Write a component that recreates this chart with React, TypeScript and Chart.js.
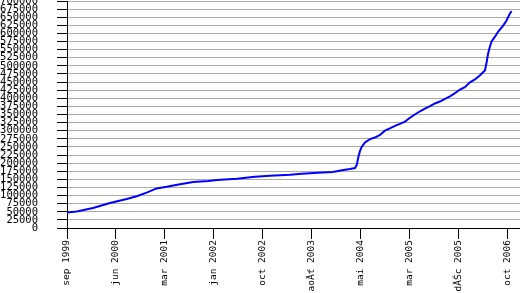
import React, { useEffect, useRef } from "react";
import { Chart, registerables } from "chart.js";

Chart.register(...registerables);

// days since 1 Sep 1999
const days = [
  0, 57, 153, 253, 351, 410, 468, 527, 586, 664, 742, 831, 882, 999, 1105, 1193,
  1311, 1381, 1475, 1563, 1616, 1663, 1693, 1703, 1712, 1722, 1732, 1752, 1781,
  1810, 1840, 1869, 1898, 1928, 1957, 1987, 2016, 2045, 2075, 2104, 2134, 2163,
  2192, 2222, 2251, 2281, 2310, 2339, 2369, 2398, 2428, 2457, 2467, 2476, 2486,
  2496, 2516, 2535, 2564, 2584, 2600, 2613,
];
const values = [
  48000, 51000, 61500, 77000, 89600, 98000, 109000, 122000, 127000, 135000,
  142000, 145000, 148000, 152000, 158000, 161000, 164000, 167000, 170000, 172500,
  178000, 182000, 185000, 194000, 217000, 237000, 250000, 264000, 274000, 279000,
  287000, 300000, 307000, 315000, 321000, 328000, 340000, 350000, 360000, 368000,
  376000, 384000, 390000, 398000, 406000, 416000, 427000, 434000, 449000, 458000,
  471000, 486000, 512000, 539000, 559000, 575000, 590000, 606000, 624000, 640000,
  658000, 669000,
];
const tickDays = [0, 288, 576, 864, 1152, 1440, 1728, 2016, 2304, 2592];
const tickLabels = [
  "sep 1999",
  "jun 2000",
  "mar 2001",
  "jan 2002",
  "oct 2002",
  "aoĂť 2003",
  "mai 2004",
  "mar 2005",
  "dĂŠc 2005",
  "oct 2006",
];

export default function App() {
  const ref = useRef<HTMLCanvasElement>(null);
  useEffect(() => {
    if (!ref.current) return;
    const chart = new Chart(ref.current, {
      type: "line",
      data: {
        datasets: [
          {
            data: days.map((d, i) => ({ x: d, y: values[i] })),
            borderColor: "#0000ff",
            borderWidth: 2,
            pointRadius: 0,
            tension: 0,
            fill: false,
          },
        ],
      },
      options: {
        animation: false,
        responsive: false,
        layout: { padding: { top: 1, right: 0, bottom: 0, left: 0 } },
        plugins: { legend: { display: false }, tooltip: { enabled: false } },
        scales: {
          x: {
            type: "linear",
            min: 0,
            max: 2663,
            afterBuildTicks: (axis: any) => {
              axis.ticks = tickDays.map((v) => ({ value: v }));
            },
            afterFit: (axis: any) => {
              axis.height = 65;
              axis.paddingLeft = 0;
              axis.paddingRight = 0;
            },
            grid: {
              drawOnChartArea: false,
              drawTicks: true,
              tickLength: 11,
              tickColor: "#000",
            },
            border: { color: "#000", width: 1 },
            ticks: {
              autoSkip: false,
              maxRotation: 90,
              minRotation: 90,
              padding: 1,
              color: "#000",
              font: { family: "DejaVu Sans Mono", size: 9.5 },
              callback: (v: any) => {
                const i = tickDays.indexOf(Number(v));
                return i >= 0 ? tickLabels[i] : "";
              },
            },
          },
          y: {
            min: 0,
            max: 700000,
            afterFit: (axis: any) => {
              axis.width = 67;
              axis.paddingTop = 0;
              axis.paddingBottom = 0;
            },
            grid: {
              color: "#aaaaaa",
              tickColor: "#000",
              tickLength: 10,
              drawTicks: true,
            },
            border: { color: "#000", width: 1 },
            ticks: {
              stepSize: 25000,
              autoSkip: false,
              padding: 19,
              color: "#000",
              font: { family: "DejaVu Sans Mono", size: 10.5 },
              callback: (v: any) => String(v),
            },
          },
        },
      },
    });
    return () => chart.destroy();
  }, []);
  return (
    <div style={{ position: "absolute", left: 0, top: 0, width: 520, height: 293, background: "#fff" }}>
      <canvas ref={ref} width={520} height={293} style={{ display: "block" }} />
    </div>
  );
}
